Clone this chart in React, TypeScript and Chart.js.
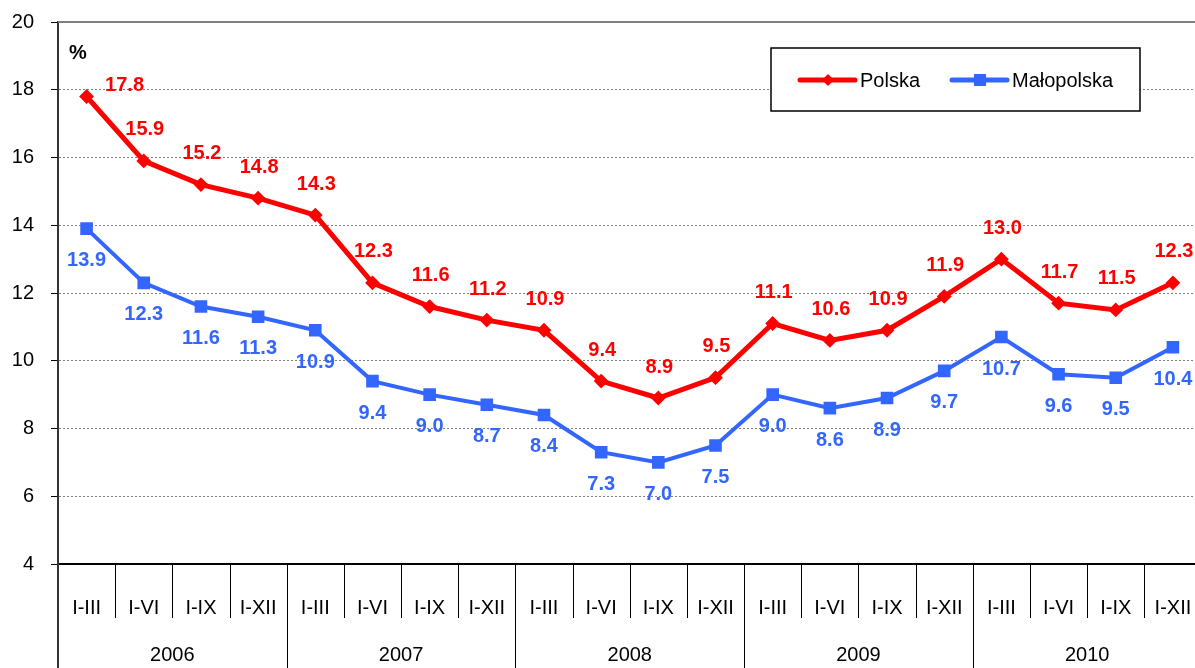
import React, { useEffect, useRef } from "react";
import { Chart, registerables } from "chart.js";
Chart.register(...registerables);

const quarters = [
  "I-III", "I-VI", "I-IX", "I-XII",
  "I-III", "I-VI", "I-IX", "I-XII",
  "I-III", "I-VI", "I-IX", "I-XII",
  "I-III", "I-VI", "I-IX", "I-XII",
  "I-III", "I-VI", "I-IX", "I-XII",
];
const years = ["2006", "2007", "2008", "2009", "2010"];
const polska = [17.8, 15.9, 15.2, 14.8, 14.3, 12.3, 11.6, 11.2, 10.9, 9.4, 8.9, 9.5, 11.1, 10.6, 10.9, 11.9, 13.0, 11.7, 11.5, 12.3];
const malopolska = [13.9, 12.3, 11.6, 11.3, 10.9, 9.4, 9.0, 8.7, 8.4, 7.3, 7.0, 7.5, 9.0, 8.6, 8.9, 9.7, 10.7, 9.6, 9.5, 10.4];
const seriesNames = ["Polska", "Małopolska"];
const yMin = 4;
const yMax = 20;
const yStep = 2;
const unitLabel = "%";

const RED = "#FF0000";
const BLUE = "#3366FF";
const FONT = "'Liberation Sans', Arial, sans-serif";

const decorPlugin = {
  id: "decor",
  afterDatasetsDraw(chart: any) {
    const { ctx } = chart;
    ctx.save();
    ctx.font = `bold 20px ${FONT}`;
    ctx.textAlign = "center";
    ctx.textBaseline = "middle";
    const m0 = chart.getDatasetMeta(0);
    ctx.fillStyle = RED;
    m0.data.forEach((pt: any, i: number) => {
      const v = chart.data.datasets[0].data[i];
      if (i === 0) ctx.fillText(v.toFixed(1), pt.x + 38, pt.y - 11);
      else ctx.fillText(v.toFixed(1), pt.x + 1, pt.y - 31);
    });
    const m1 = chart.getDatasetMeta(1);
    ctx.fillStyle = BLUE;
    m1.data.forEach((pt: any, i: number) => {
      const v = chart.data.datasets[1].data[i];
      ctx.fillText(v.toFixed(1), pt.x, pt.y + 32);
    });
    ctx.restore();
  },
  afterDraw(chart: any) {
    const { ctx, chartArea, scales } = chart;
    const x = scales.x;
    const H = chart.height;
    ctx.save();
    // top border
    ctx.strokeStyle = "#808080";
    ctx.lineWidth = 2;
    ctx.beginPath();
    ctx.moveTo(chartArea.left, chartArea.top);
    ctx.lineTo(chartArea.right, chartArea.top);
    ctx.stroke();

    // separators
    const n = quarters.length;
    const step = x.getPixelForValue(1) - x.getPixelForValue(0);
    const b0 = x.getPixelForValue(0) - step / 2;
    ctx.strokeStyle = "#000";
    ctx.lineWidth = 1;
    for (let i = 1; i <= n; i++) {
      const px = Math.round(b0 + i * step) + 0.5;
      const yEnd = i % 4 === 0 ? H : chartArea.bottom + 54;
      ctx.beginPath();
      ctx.moveTo(px, chartArea.bottom);
      ctx.lineTo(px, yEnd);
      ctx.stroke();
    }
    // left axis extension
    ctx.lineWidth = 2;
    ctx.strokeStyle = "#333";
    ctx.beginPath();
    ctx.moveTo(chartArea.left, chartArea.bottom);
    ctx.lineTo(chartArea.left, H);
    ctx.stroke();

    // year labels
    ctx.fillStyle = "#000";
    ctx.font = `20px ${FONT}`;
    ctx.textAlign = "center";
    ctx.textBaseline = "middle";
    years.forEach((yr, k) => {
      const cx = b0 + (k * 4 + 2) * step;
      ctx.fillText(yr, cx, chartArea.bottom + 91);
    });

    // unit label
    ctx.font = `bold 20px ${FONT}`;
    ctx.fillText(unitLabel, chartArea.left + 20, chartArea.top + 31);

    // legend
    const lx = 771, ly = 48, lw = 369, lh = 63;
    ctx.fillStyle = "#fff";
    ctx.fillRect(lx, ly, lw, lh);
    ctx.strokeStyle = "#000";
    ctx.lineWidth = 1.5;
    ctx.strokeRect(lx, ly, lw, lh);
    const cy = ly + 32;
    const items = [
      { x0: 800, color: RED, shape: "diamond", label: seriesNames[0] },
      { x0: 952, color: BLUE, shape: "square", label: seriesNames[1] },
    ];
    items.forEach((it) => {
      ctx.strokeStyle = it.color;
      ctx.lineWidth = 5;
      ctx.lineCap = "round";
      ctx.beginPath();
      ctx.moveTo(it.x0, cy);
      ctx.lineTo(it.x0 + 55, cy);
      ctx.stroke();
      ctx.fillStyle = it.color;
      const mx = it.x0 + 28;
      if (it.shape === "diamond") {
        ctx.beginPath();
        ctx.moveTo(mx - 6, cy);
        ctx.lineTo(mx, cy - 6);
        ctx.lineTo(mx + 6, cy);
        ctx.lineTo(mx, cy + 6);
        ctx.closePath();
        ctx.fill();
      } else {
        ctx.fillRect(mx - 6, cy - 6, 12, 12);
      }
      ctx.fillStyle = "#000";
      ctx.textAlign = "left";
      ctx.font = `20px ${FONT}`;
      ctx.fillText(it.label, it.x0 + 60, cy + 1);
    });
    ctx.restore();
  },
};

export default function App() {
  const ref = useRef<HTMLCanvasElement | null>(null);
  useEffect(() => {
    if (!ref.current) return;
    Chart.defaults.font.family = FONT;
    const chart = new Chart(ref.current, {
      type: "line",
      data: {
        labels: quarters,
        datasets: [
          {
            label: seriesNames[0],
            data: polska,
            borderColor: RED,
            backgroundColor: RED,
            borderWidth: 5,
            pointStyle: "rectRot",
            pointRadius: 6,
            pointBorderWidth: 2,
            pointBorderColor: RED,
            pointBackgroundColor: RED,
            tension: 0,
          },
          {
            label: seriesNames[1],
            data: malopolska,
            borderColor: BLUE,
            backgroundColor: BLUE,
            borderWidth: 4,
            pointStyle: "rect",
            pointRadius: 7.5,
            pointBorderWidth: 2,
            pointBorderColor: BLUE,
            pointBackgroundColor: BLUE,
            tension: 0,
          },
        ],
      },
      options: {
        responsive: false,
        animation: false,
        layout: { padding: { top: 22, right: 0, left: 0, bottom: 0 } },
        plugins: {
          legend: { display: false },
          tooltip: { enabled: false },
          title: { display: false },
        },
        scales: {
          x: {
            type: "category",
            offset: true,
            grid: { display: false },
            border: { display: true, color: "#000", width: 2 },
            ticks: {
              color: "#000",
              font: { size: 20, family: FONT },
              padding: 24,
              autoSkip: false,
              maxRotation: 0,
              minRotation: 0,
            },
            afterFit: (s: any) => {
              s.height = 104;
              s.paddingLeft = 0;
              s.paddingRight = 0;
            },
          },
          y: {
            min: yMin,
            max: yMax,
            grid: {
              color: (c: any) =>
                c.tick && (c.tick.value === yMin || c.tick.value === yMax) ? "rgba(0,0,0,0)" : "#808080",
              lineWidth: 1,
              tickColor: "#000",
              tickLength: 7,
              tickWidth: 1,
            },
            border: { display: true, color: "#333", width: 2, dash: [2, 2] },
            ticks: {
              stepSize: yStep,
              color: "#000",
              font: { size: 20, family: FONT },
              padding: 17,
            },
            afterFit: (s: any) => {
              s.width = 58;
              s.paddingTop = 0;
              s.paddingBottom = 0;
            },
          },
        },
      },
      plugins: [decorPlugin],
    });
    return () => chart.destroy();
  }, []);
  return (
    <div
      style={{
        position: "fixed",
        left: 0,
        top: 0,
        width: 1195,
        height: 668,
        overflow: "hidden",
        background: "#fff",
      }}
    >
      <canvas ref={ref} width={1211} height={668} style={{ display: "block" }} />
    </div>
  );
}
